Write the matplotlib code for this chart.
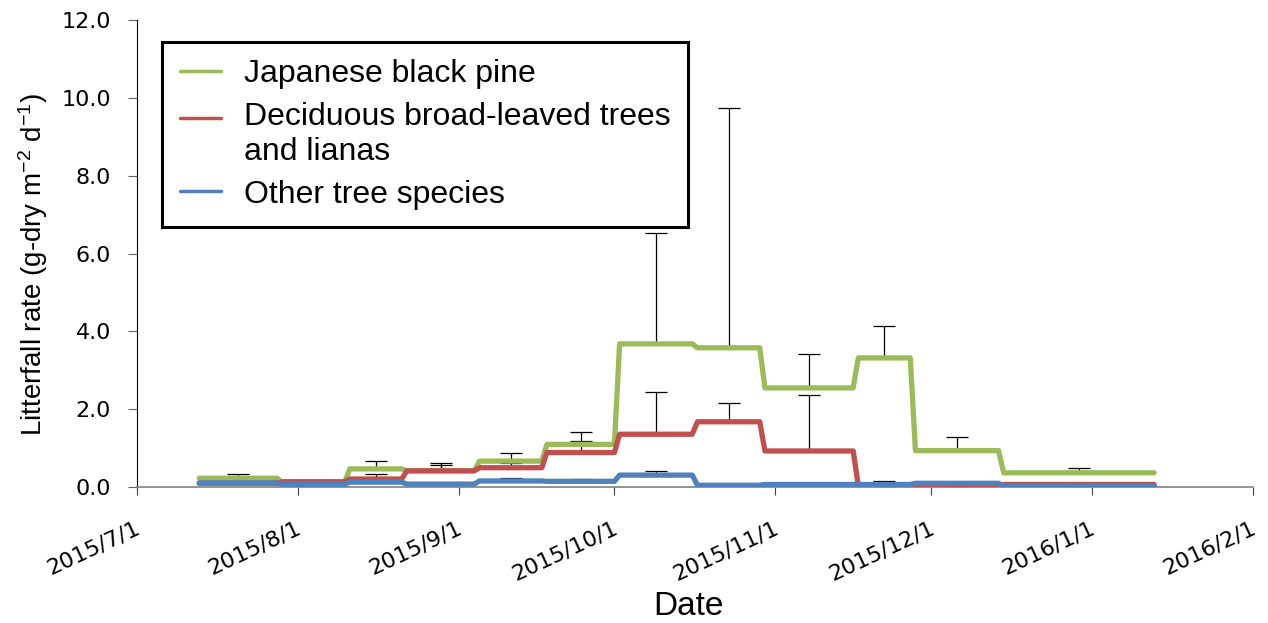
import numpy as np
import pandas as pd
import matplotlib
matplotlib.use("Agg")
import matplotlib.pyplot as plt
import matplotlib.dates as mdates
import matplotlib.transforms as mtransforms

# === Collection periods ===
period_start = ['2015-07-13', '2015-07-29', '2015-08-11', '2015-08-22', '2015-09-05', '2015-09-18',
                '2015-10-02', '2015-10-17', '2015-10-30', '2015-11-17', '2015-11-28', '2015-12-15']
period_end = ['2015-07-28', '2015-08-10', '2015-08-21', '2015-09-04', '2015-09-17', '2015-10-01',
              '2015-10-16', '2015-10-29', '2015-11-16', '2015-11-27', '2015-12-14', '2016-01-13']

# === Litterfall rate (g-dry m-2 d-1) and upper error ===
pine = [0.23, 0.12, 0.47, 0.42, 0.67, 1.10, 3.68, 3.58, 2.55, 3.32, 0.94, 0.37]
pine_err = [0.12, 0.05, 0.21, 0.21, 0.22, 0.32, 2.84, 6.16, 0.86, 0.83, 0.35, 0.13]
decid = [0.10, 0.14, 0.21, 0.42, 0.50, 0.89, 1.36, 1.68, 0.93, 0.03, 0.02, 0.07]
decid_err = [0.03, 0.04, 0.12, 0.15, 0.12, 0.30, 1.09, 0.49, 1.44, 0.03, 0.03, 0.05]
other = [0.11, 0.07, 0.13, 0.08, 0.16, 0.15, 0.31, 0.05, 0.07, 0.07, 0.10, 0.03]
other_err = [0.02, 0.02, 0.03, 0.02, 0.08, 0.05, 0.11, 0.02, 0.03, 0.09, 0.02, 0.03]

series = [
    ('Japanese black pine', pine, pine_err, '#9BBB59'),
    ('Deciduous broad-leaved trees\nand lianas', decid, decid_err, '#C0504D'),
    ('Other tree species', other, other_err, '#4F81BD'),
]

starts = pd.to_datetime(period_start)
ends = pd.to_datetime(period_end)
mids = starts + (ends - starts) / 2
# each period is a flat segment from start to end
line_x = np.column_stack([starts.to_numpy(), ends.to_numpy()]).ravel()

plt.rcParams['mathtext.fontset'] = 'custom'
plt.rcParams['mathtext.rm'] = 'Liberation Sans'
plt.rcParams['mathtext.it'] = 'Liberation Sans'

fig = plt.figure(figsize=(12.68, 6.23), dpi=100)
ax = fig.add_axes([0.108, 0.218, 0.880, 0.750])

for label, vals, errs, color in series:
    line_y = np.repeat(vals, 2)
    ax.plot(line_x, line_y, color=color, lw=3.8, label=label,
            solid_joinstyle='round', solid_capstyle='round', zorder=3)

for label, vals, errs, color in series:
    ax.errorbar(mids, vals, yerr=[np.zeros(len(errs)), errs], fmt='none',
                ecolor='black', elinewidth=0.9, capsize=8, capthick=0.9, zorder=2)

ax.set_xlim(pd.Timestamp('2015-07-01'), pd.Timestamp('2016-02-01'))
ax.set_ylim(0, 12)
ax.set_yticks(np.arange(0, 12.1, 2))
ax.yaxis.set_major_formatter(plt.FuncFormatter(lambda v, p: f'{v:.1f}'))

ax.xaxis.set_major_locator(mdates.MonthLocator())
ax.xaxis.set_major_formatter(plt.FuncFormatter(
    lambda v, p: '{0.year}/{0.month}/{0.day}'.format(mdates.num2date(v))))

for s in ['top', 'right']:
    ax.spines[s].set_visible(False)
ax.spines['left'].set_color('black')
ax.spines['bottom'].set_color('#808080')
ax.spines['bottom'].set_linewidth(1.2)

ax.tick_params(axis='y', direction='out', length=6.5, color='#606060', labelsize=16, pad=12)
ax.tick_params(axis='x', direction='out', length=6, color='#404040', labelsize=16, pad=16)
shift = mtransforms.ScaledTranslation(-2 / 100, 0, fig.dpi_scale_trans)
for t in ax.get_xticklabels():
    t.set_rotation(25)
    t.set_ha('right')
    t.set_rotation_mode('anchor')
    t.set_transform(t.get_transform() + shift)

ax.set_xlabel('Date', fontsize=24, family='Liberation Sans')
ax.xaxis.set_label_coords(0.494, -0.222)
ax.set_ylabel('Litterfall rate (g-dry m$^{-2}$ d$^{-1}$)', fontsize=20,
              family='Liberation Sans')
ax.yaxis.set_label_coords(-0.078, 0.477)

leg = ax.legend(loc='upper left', bbox_to_anchor=(0.0224, 0.953),
                prop={'family': 'Liberation Sans', 'size': 23},
                frameon=True, fancybox=False, edgecolor='black', framealpha=1,
                handlelength=1.3, handletextpad=0.72, borderpad=0.55, labelspacing=0.4,
                borderaxespad=0)
leg.get_frame().set_linewidth(2.2)
for h in leg.get_lines():
    h.set_linewidth(2.5)
# put the handle of the two-line entry beside its first line
two_line = leg.get_lines()[1]
two_line.set_ydata(np.asarray(two_line.get_ydata()) + 12.2)

fig.savefig('out.png', dpi=100)
plt.close(fig)
